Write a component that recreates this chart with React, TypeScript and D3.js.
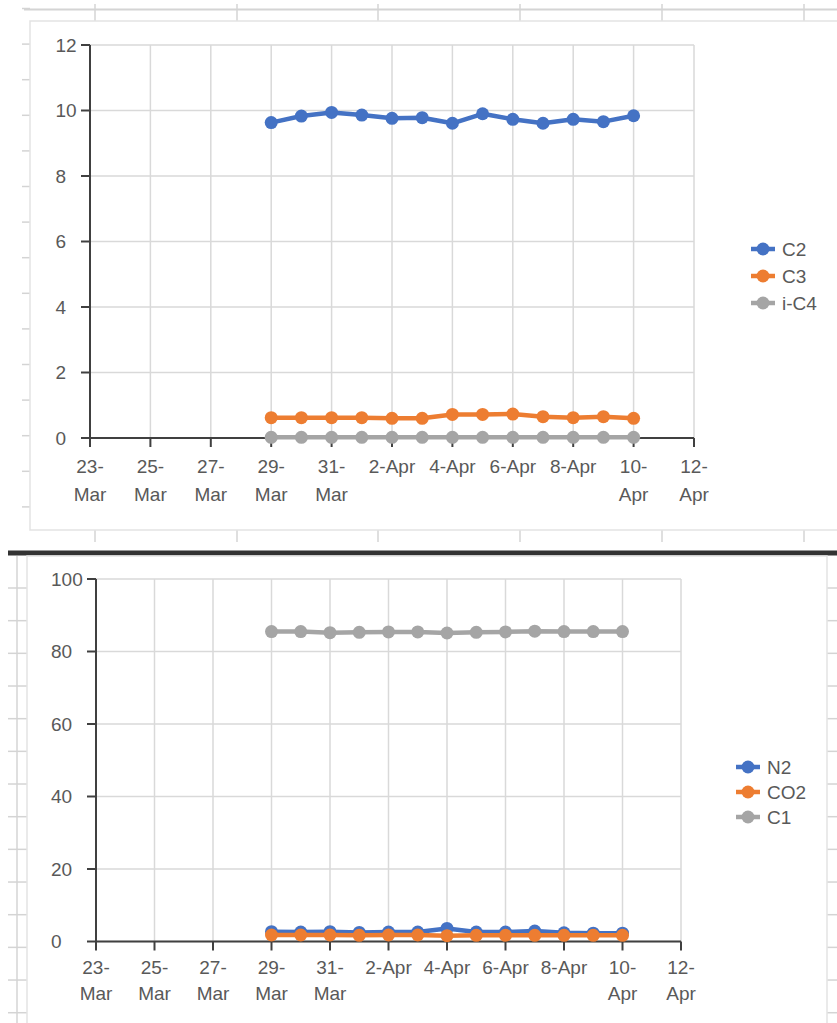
import React from "react";
import * as d3 from "d3";

// Sample dates (one reading per day)
const SAMPLE_DATES = [
  "2021-03-29", "2021-03-30", "2021-03-31", "2021-04-01", "2021-04-02",
  "2021-04-03", "2021-04-04", "2021-04-05", "2021-04-06", "2021-04-07",
  "2021-04-08", "2021-04-09", "2021-04-10",
];

// Upper chart: heavier components (mol %)
const C2 = [9.63, 9.83, 9.94, 9.86, 9.76, 9.78, 9.61, 9.9, 9.73, 9.61, 9.73, 9.66, 9.84];
const C3 = [0.62, 0.62, 0.62, 0.62, 0.6, 0.6, 0.72, 0.72, 0.73, 0.65, 0.62, 0.65, 0.6];
const IC4 = [0.02, 0.02, 0.02, 0.02, 0.02, 0.02, 0.02, 0.02, 0.02, 0.02, 0.02, 0.02, 0.02];

// Lower chart: inerts and methane (mol %)
const N2 = [2.7, 2.6, 2.7, 2.5, 2.6, 2.6, 3.6, 2.6, 2.6, 2.9, 2.4, 2.3, 2.3];
const CO2 = [1.8, 1.8, 1.8, 1.7, 1.8, 1.8, 1.6, 1.7, 1.7, 1.7, 1.7, 1.7, 1.7];
const C1 = [85.5, 85.5, 85.2, 85.3, 85.4, 85.4, 85.1, 85.3, 85.4, 85.6, 85.5, 85.5, 85.5];

const TOP_Y_TICKS = [0, 2, 4, 6, 8, 10, 12];
const BOTTOM_Y_TICKS = [0, 20, 40, 60, 80, 100];
const X_START = "2021-03-23";
const X_END = "2021-04-12";

const BLUE = "#4472C4";
const ORANGE = "#ED7D31";
const GRAY = "#A5A5A5";
const TEXT = "#595959";
const GRID = "#D9D9D9";
const AXIS = "#404040";
const CELL = "#D4D4D4";
const FONT = "'Liberation Sans', Arial, sans-serif";

const parse = d3.timeParse("%Y-%m-%d");
const fmtDay = d3.timeFormat("%-d");
const fmtMon = d3.timeFormat("%b");

type Series = { name: string; values: number[]; color: string };

type ChartProps = {
  series: Series[];
  yTicks: number[];
  xRange: [number, number];
  yRange: [number, number];
  yLabelX: number;
  labelBase1: number;
  labelBase2: number;
  legendX: number;
  legendY: number[];
};

function Chart({ series, yTicks, xRange, yRange, yLabelX, labelBase1, labelBase2, legendX, legendY }: ChartProps) {
  const dates = SAMPLE_DATES.map((s) => parse(s) as Date);
  const x = d3.scaleTime().domain([parse(X_START) as Date, parse(X_END) as Date]).range(xRange);
  const y = d3
    .scaleLinear()
    .domain([yTicks[0], yTicks[yTicks.length - 1]])
    .range(yRange);
  const xTicks = d3.timeDay.range(parse(X_START) as Date, d3.timeDay.offset(parse(X_END) as Date, 1), 2);
  const [x0, x1] = xRange;
  const [yBottom, yTop] = yRange;
  const line = d3
    .line<number>()
    .x((_, i) => x(dates[i]))
    .y((v) => y(v));

  return (
    <g fontFamily={FONT} fontSize={19} fill={TEXT}>
      {/* gridlines */}
      {yTicks.map((t) => (
        <line key={"gy" + t} x1={x0} x2={x1} y1={y(t)} y2={y(t)} stroke={GRID} strokeWidth={1.5} />
      ))}
      {xTicks.map((t, i) => (
        <line key={"gx" + i} x1={x(t)} x2={x(t)} y1={yBottom} y2={yTop} stroke={GRID} strokeWidth={1.5} />
      ))}
      {/* axes */}
      <line x1={x0} x2={x0} y1={yBottom} y2={yTop} stroke={AXIS} strokeWidth={2} />
      <line x1={x0} x2={x1} y1={yBottom} y2={yBottom} stroke={AXIS} strokeWidth={2} />
      {yTicks.map((t) => (
        <g key={"yt" + t}>
          <line x1={x0 - 9} x2={x0} y1={y(t)} y2={y(t)} stroke={AXIS} strokeWidth={2} />
          <text x={yLabelX} y={y(t)} dy="0.36em" stroke="none">
            {t}
          </text>
        </g>
      ))}
      {xTicks.map((t, i) => {
        const day = +fmtDay(t);
        const cx = x(t);
        return (
          <g key={"xt" + i}>
            <line x1={cx} x2={cx} y1={yBottom} y2={yBottom + 9} stroke={AXIS} strokeWidth={2} />
            {day >= 10 ? (
              <>
                <text x={cx} y={labelBase1} textAnchor="middle">{`${day}-`}</text>
                <text x={cx} y={labelBase2} textAnchor="middle">{fmtMon(t)}</text>
              </>
            ) : (
              <text x={cx} y={labelBase1} textAnchor="middle">{`${day}-${fmtMon(t)}`}</text>
            )}
          </g>
        );
      })}
      {/* series */}
      {series.map((s) => (
        <g key={s.name}>
          <path d={line(s.values) || ""} fill="none" stroke={s.color} strokeWidth={4.5} strokeLinejoin="round" />
          {s.values.map((v, i) => (
            <circle key={i} cx={x(dates[i])} cy={y(v)} r={6.5} fill={s.color} />
          ))}
        </g>
      ))}
      {/* legend */}
      {series.map((s, i) => (
        <g key={"lg" + s.name}>
          <line x1={legendX - 12} x2={legendX + 12} y1={legendY[i]} y2={legendY[i]} stroke={s.color} strokeWidth={4.5} />
          <circle cx={legendX} cy={legendY[i]} r={6.5} fill={s.color} />
          <text x={legendX + 19} y={legendY[i]} dy="0.36em">
            {s.name}
          </text>
        </g>
      ))}
    </g>
  );
}

export default function App() {
  const topCols = [95, 237, 378, 520, 662, 804];
  const topRows = d3.range(8.5, 531, 35.6);
  const bottomRows = d3.range(588, 1023, 32.67);
  return (
    <svg
      width={837}
      height={1023}
      style={{ position: "absolute", left: 0, top: 0, background: "#fff" }}
    >
      {/* worksheet cells behind the upper chart */}
      <line x1={24} x2={837} y1={9.5} y2={9.5} stroke={CELL} strokeWidth={2} />
      {topCols.map((c) => (
        <g key={"tc" + c}>
          <line x1={c} x2={c} y1={4} y2={22} stroke={CELL} strokeWidth={1.5} />
          <line x1={c} x2={c} y1={530} y2={542} stroke={CELL} strokeWidth={1.5} />
        </g>
      ))}
      {topRows.map((r, i) => (
        <line key={"tr" + i} x1={22} x2={30} y1={r} y2={r} stroke={CELL} strokeWidth={1.5} />
      ))}
      <rect x={30} y={21} width={830} height={509} fill="#fff" stroke="#E3E3E3" strokeWidth={1.5} />

      {/* divider between the two sheets */}
      <rect x={8} y={550.5} width={829} height={5} fill="#333" />

      {/* worksheet cells behind the lower chart */}
      <line x1={17} x2={17} y1={556} y2={1023} stroke={CELL} strokeWidth={1.5} />
      {bottomRows.map((r, i) => (
        <g key={"br" + i}>
          <line x1={8} x2={27} y1={r} y2={r} stroke={CELL} strokeWidth={1.5} />
          <line x1={827} x2={837} y1={r} y2={r} stroke={CELL} strokeWidth={1.5} />
        </g>
      ))}
      <rect x={27} y={556} width={800} height={480} fill="#fff" stroke="#E3E3E3" strokeWidth={1.5} />

      <Chart
        series={[
          { name: "C2", values: C2, color: BLUE },
          { name: "C3", values: C3, color: ORANGE },
          { name: "i-C4", values: IC4, color: GRAY },
        ]}
        yTicks={TOP_Y_TICKS}
        xRange={[90, 694]}
        yRange={[438, 45]}
        yLabelX={55.5}
        labelBase1={473}
        labelBase2={501}
        legendX={763}
        legendY={[249, 276, 303]}
      />
      <Chart
        series={[
          { name: "N2", values: N2, color: BLUE },
          { name: "CO2", values: CO2, color: ORANGE },
          { name: "C1", values: C1, color: GRAY },
        ]}
        yTicks={BOTTOM_Y_TICKS}
        xRange={[96, 681]}
        yRange={[941.5, 579]}
        yLabelX={51}
        labelBase1={974}
        labelBase2={1000}
        legendX={748}
        legendY={[767, 792, 817]}
      />
    </svg>
  );
}
